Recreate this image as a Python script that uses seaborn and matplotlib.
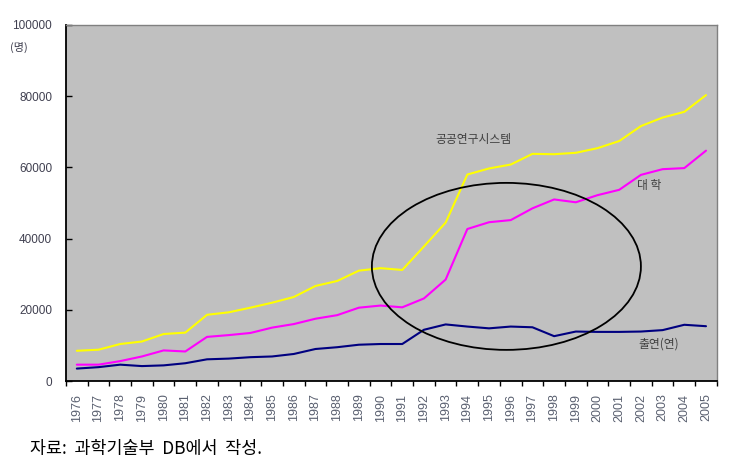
import matplotlib
matplotlib.use("Agg")
import matplotlib.pyplot as plt
from matplotlib.patches import Ellipse
import seaborn as sns
import pandas as pd
import numpy as np

years = [str(y) for y in range(1976, 2006)]
public_system = [8500, 8800, 10400, 11100, 13200, 13600, 18600, 19300, 20600, 22000,
                 23600, 26700, 28100, 31000, 31700, 31200, 37800, 44500, 58000, 59700,
                 60800, 63800, 63700, 64100, 65400, 67400, 71600, 74000, 75600, 80300]
university = [4600, 4600, 5600, 6900, 8600, 8300, 12400, 12900, 13500, 15000,
              16000, 17500, 18500, 20600, 21200, 20700, 23200, 28500, 42700, 44600,
              45200, 48500, 51000, 50200, 52200, 53700, 57900, 59500, 59800, 64700]
institutes = [3500, 3900, 4600, 4200, 4400, 5000, 6100, 6300, 6700, 6900,
              7600, 9000, 9500, 10200, 10400, 10400, 14400, 15900, 15300, 14800,
              15300, 15100, 12600, 13900, 13800, 13800, 13900, 14300, 15800, 15400]
series_names = ["공공연구시스템", "대학", "출연(연)"]
y_ticks = [0, 20000, 40000, 60000, 80000, 100000]

sns.set_style("ticks")
plt.rcParams['font.family'] = ['Noto Sans CJK KR', 'DejaVu Sans']

idx = list(range(len(years)))
df = pd.DataFrame({
    "idx": idx * 3,
    "value": public_system + university + institutes,
    "series": [series_names[0]] * len(years) + [series_names[1]] * len(years) + [series_names[2]] * len(years),
})

fig = plt.figure(figsize=(7.43, 4.71), dpi=100)
ax = fig.add_axes([0.0888, 0.191, 0.876, 0.756])
ax.set_facecolor("#c0c0c0")

palette = {series_names[0]: "#ffff00", series_names[1]: "#ff00ff", series_names[2]: "#000080"}
sns.lineplot(data=df, x="idx", y="value", hue="series", palette=palette,
             linewidth=1.5, legend=False, ax=ax)

ax.set_xlim(-0.5, len(years) - 0.5)
ax.set_ylim(0, 100000)
ax.set_xlabel("")
ax.set_ylabel("")

ax.set_xticks(idx)
ax.set_xticklabels(years, rotation=90, fontsize=9, color="#5a6070", family="Liberation Sans")
ax.set_xticks(np.arange(-0.5, len(years), 1.0), minor=True)
ax.tick_params(axis="x", which="major", length=0, pad=9)
ax.tick_params(axis="x", which="minor", length=3.5, width=1, color="black", direction="out")

ax.set_yticks(y_ticks)
ax.set_yticklabels([str(v) for v in y_ticks], fontsize=8.5, color="#404050", family="Liberation Sans")
ax.tick_params(axis="y", length=4, width=1, color="black", direction="in", pad=10)

for side in ["left", "bottom"]:
    ax.spines[side].set_color("black")
    ax.spines[side].set_linewidth(1.3)
for side in ["top", "right"]:
    ax.spines[side].set_color("#808080")
    ax.spines[side].set_linewidth(1.0)

ell = Ellipse((19.8, 32200), width=12.4, height=46900, fill=False,
              edgecolor="black", linewidth=1.3, zorder=5)
ax.add_patch(ell)

ax.text(18.3, 67700, series_names[0], fontsize=8.5, color="#404040", ha="center", va="center")
ax.text(26.4, 54900, "대 학", fontsize=8.5, color="#404040", ha="center", va="center")
ax.text(26.8, 10400, "출연(연)", fontsize=8.5, color="#404040", ha="center", va="center")

fig.text(0.014, 0.893, "(명)", fontsize=8, color="#404050")
fig.text(0.04, 0.037, "자료:  과학기술부  DB에서  작성.", fontsize=12.5, color="black")

fig.savefig("out.png", dpi=100)
